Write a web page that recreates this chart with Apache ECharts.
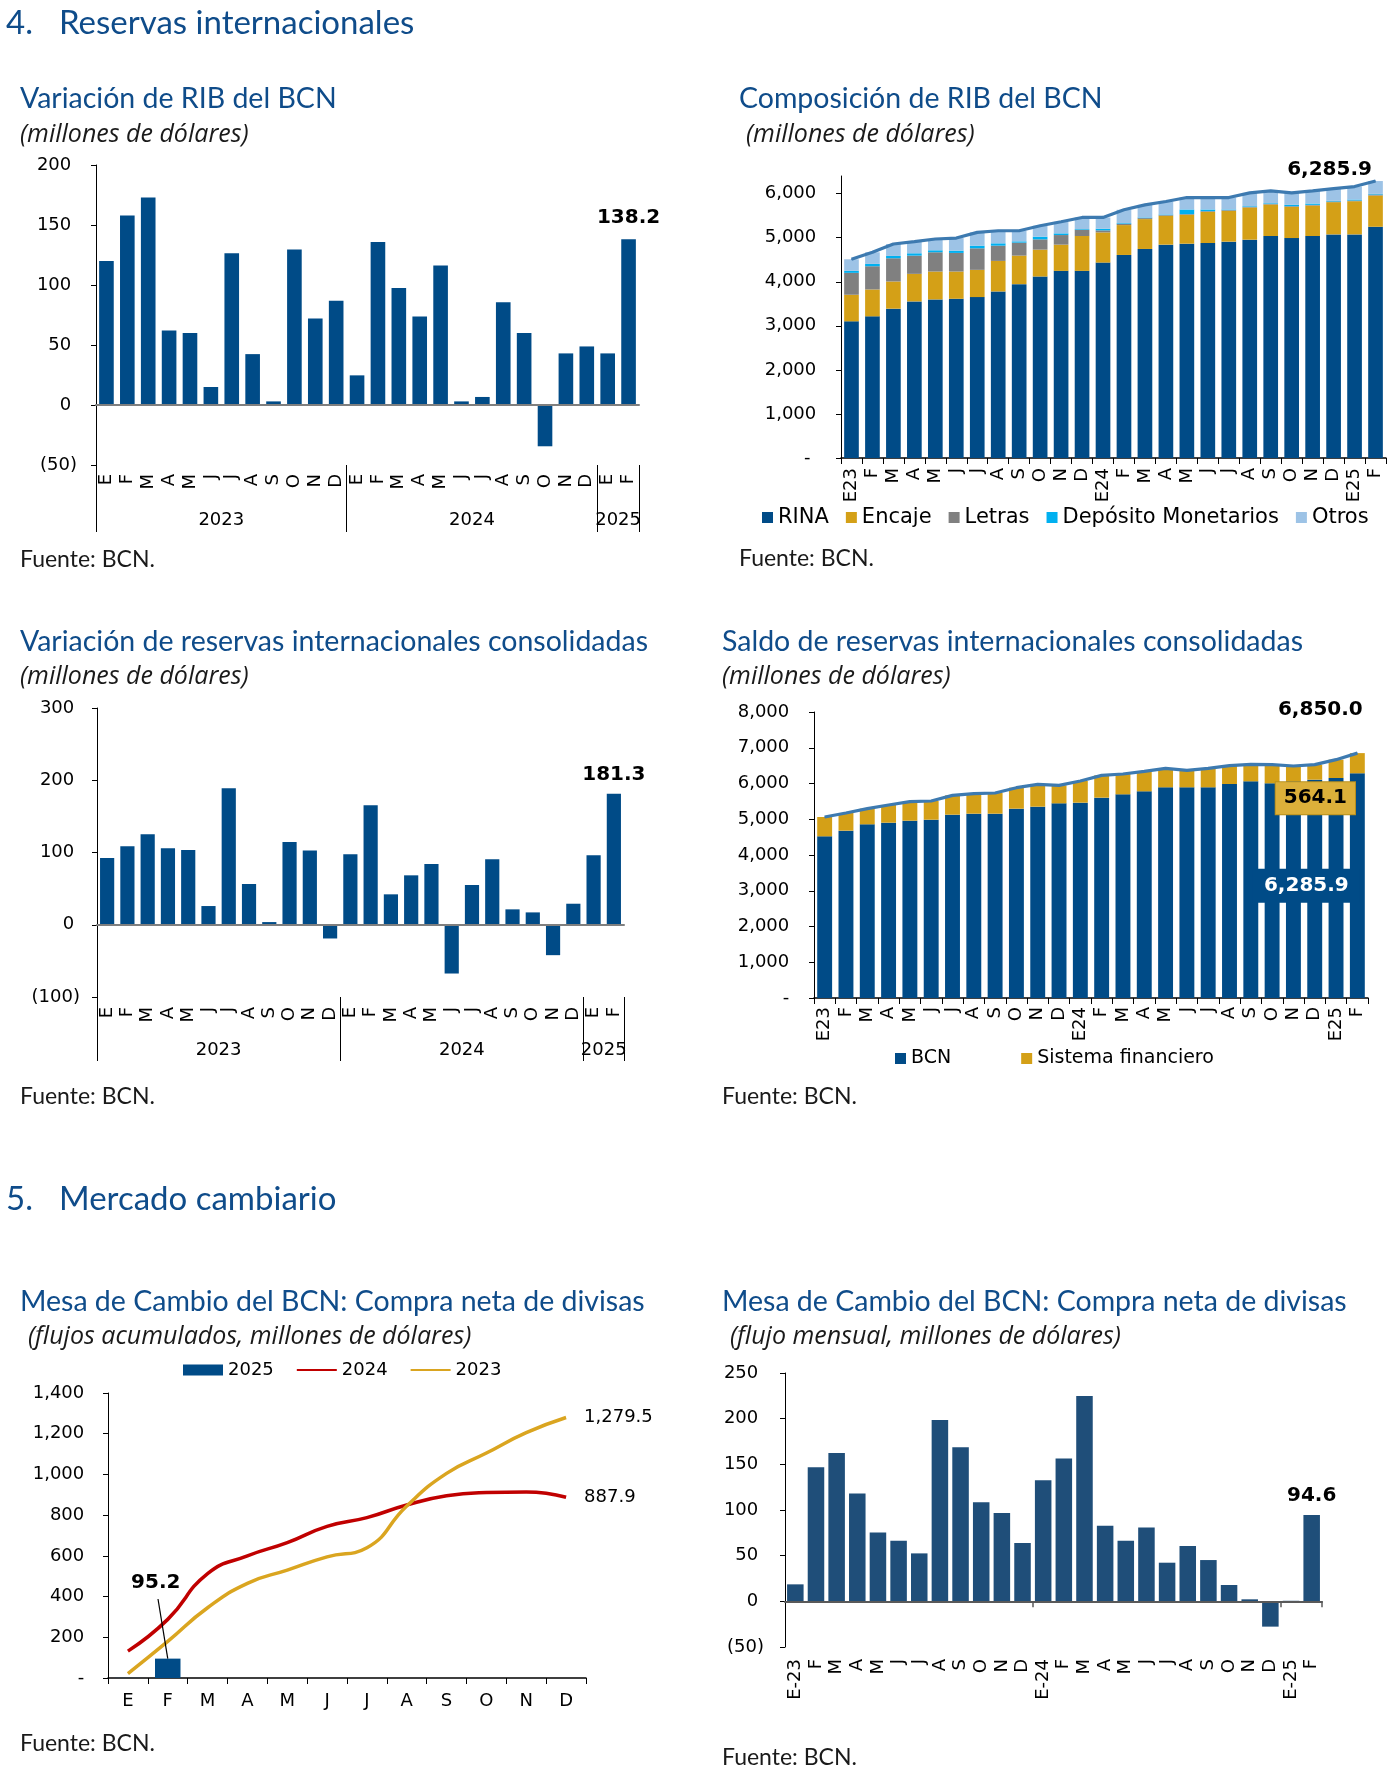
<!DOCTYPE html>
<html><head><meta charset="utf-8">
<script src="https://cdn.jsdelivr.net/npm/echarts@6/dist/echarts.min.js"></script>
<style>html,body{margin:0;padding:0;background:#fff}#c{width:1393px;height:1779px}</style>
</head><body><div id="c"></div>
<script>
// ---------- DATA ----------
const monthsP1 = ['E','F','M','A','M','J','J','A','S','O','N','D','E','F','M','A','M','J','J','A','S','O','N','D','E','F'];
const yearLabels = ['2023','2024','2025'];
const monthsPerYear = [12,12,2];
const varRIB = [120,158,173,62,60,15,126.5,42.4,3,129.5,72.1,86.8,24.7,135.9,97.4,73.8,116.2,3,6.7,85.7,59.9,-34.4,43,48.8,43,138.2];

const catsComp = ['E23','F','M','A','M','J','J','A','S','O','N','D','E24','F','M','A','M','J','J','A','S','O','N','D','E25','F'];
const rina   = [3102,3215,3389,3554,3599,3614,3652,3780,3946,4119,4247,4247,4435,4608,4744,4842,4864,4880,4910,4955,5038,4992,5038,5075,5075,5248];
const encaje = [603,610,617,625,633,618,618,693,647,610,595,791,685,678,678,655,656,707,700,730,715,708,692,731,753,708];
const letras = [497,527,527,414,437,422,489,346,294,233,218,143,46,30,22,15,15,15,15,15,15,15,15,15,15,23];
const depMon = [45,53,53,53,45,52,60,53,30,61,38,15,37,15,15,15,105,38,15,15,15,30,30,15,23,15];
const otros  = [263,264,271,264,256,286,301,286,241,248,263,263,256,302,286,294,271,271,271,301,279,272,286,278,294,291.9];

const varRIC = [92.5,108.6,125.3,105.9,103.6,25.9,189.1,56.4,3.7,114.7,102.6,-19,97.5,165.5,42.1,68.4,84.1,-67.5,55,90.6,21.3,17.1,-42.1,29.1,96.2,181.3];

const bcn    = [4522,4681,4858,4904,4960,4988,5128,5156,5156,5296,5352,5445,5464,5604,5697,5781,5893,5893,5893,5986,6061,6005,6061,6107,6154,6285.9];
const sisFin = [541,494,438,495,532,522,541,560,578,587,625,504,606,624,569,559,531,475,531,513,475,522,428,420,513,564.1];

const monthsYear = ['E','F','M','A','M','J','J','A','S','O','N','D'];
const acum2025 = [0.6,95.2];
const acum2024 = [132,288,513,600,665,745,788,850,895,911,914,887.9];
const acum2023 = [22,180,345,465,530,595,640,845,1005,1105,1205,1279.5];

const catsMesa = ['E-23','F','M','A','M','J','J','A','S','O','N','D','E-24','F','M','A','M','J','J','A','S','O','N','D','E-25','F'];
const flujoMensual = [18.6,146.9,162.5,118.1,75.4,66.3,52.5,198.6,168.7,108.6,96.6,63.8,132.7,156.3,224.9,82.7,66.3,80.9,42.3,60.5,45.2,17.9,2.2,-27.7,0.6,94.6];

// ---------- STYLE ----------
const NUM = 'DejaVu Sans';
const TF = 'Lato';
const BLUE_T = '#0F4C8A';
const BAR = '#004B87';
const GOLD = '#D4A017';

const fmt = (v, d=0) => Number(v).toLocaleString('en-US',{minimumFractionDigits:d, maximumFractionDigits:d});
const yFmt = dash => v => v===0 ? dash : (v<0 ? '('+fmt(-v)+')' : fmt(v)+' ');

const yearBounds=[0], yearCenters=[];
monthsPerYear.reduce((acc,n)=>{yearCenters.push(acc+n/2); yearBounds.push(acc+n); return acc+n;},0);
const yearAt = v => { const k = yearCenters.indexOf(v); return k>=0 ? yearLabels[k] : ''; };
const totalMonths = yearBounds[yearBounds.length-1];

const T = (text,left,cy,size,extra={}) => ({text,left,top:cy-size*0.6,padding:0,
  textStyle:Object.assign({fontFamily:TF,fontSize:size,fontWeight:'normal',color:BLUE_T,lineHeight:size*1.2},extra)});
const SUB = {fontStyle:'italic',color:'#1a1a1a',fontFamily:'Open Sans'};
const SRC = {color:'#1a1a1a'};
const SEC = 33, TIT = 28.5, STT = 25, SRS = 23;

const lastLabel = (arr, label, extra) => arr.map((v,i)=> i===arr.length-1 ? Object.assign({value:v,label:Object.assign({show:true},label)},extra||{}) : v);
const boldLbl = {fontFamily:NUM,fontWeight:'bold',fontSize:20,color:'#000'};

const yAx = (grid,min,max,interval,dash,margin,extra={}) => Object.assign({type:'value',gridIndex:grid,min,max,interval,
  axisLine:{show:true,lineStyle:{color:'#000',width:1}},
  axisTick:{show:true,length:5,lineStyle:{color:'#000'}},
  splitLine:{show:false},
  axisLabel:{formatter:yFmt(dash),fontFamily:NUM,fontSize:18,color:'#000',margin}},extra);

const labelAxis = (grid,data,margin) => ({type:'category',gridIndex:grid,data,position:'bottom',
  axisLine:{show:false,onZero:false},axisTick:{show:false},
  axisLabel:{interval:0,rotate:90,margin,fontFamily:NUM,fontSize:18,color:'#000'}});
const zeroAxis = (grid,data,color,tick) => ({type:'category',gridIndex:grid,data,position:'bottom',z:10,
  axisLine:{show:true,onZero:true,lineStyle:{color,width:2}},
  axisTick:tick||{show:false},axisLabel:{show:false}});
const yearAxis = (grid,tickLen,margin) => ({type:'value',gridIndex:grid,min:0,max:totalMonths,position:'bottom',
  axisLine:{show:false,onZero:false},splitLine:{show:false},
  axisTick:{show:true,customValues:yearBounds,length:tickLen,lineStyle:{color:'#000',width:1}},
  axisLabel:{customValues:yearCenters,formatter:v=>yearAt(v),margin,fontFamily:NUM,fontSize:18,color:'#000'}});
const catAxis = (grid,data,margin,extra={}) => Object.assign({type:'category',gridIndex:grid,data,position:'bottom',
  axisLine:{show:true,onZero:false,lineStyle:{color:'#000',width:1.5}},
  axisTick:{show:true,interval:0,length:6,lineStyle:{color:'#000'}},
  axisLabel:{interval:0,rotate:90,margin,fontFamily:NUM,fontSize:18,color:'#000'}},extra);

const sum = (i)=> +(rina[i]+encaje[i]+letras[i]+depMon[i]+otros[i]).toFixed(1);
const totalRIB = rina.map((_,i)=>sum(i));
const totalRIC = bcn.map((v,i)=> +(v+sisFin[i]).toFixed(1));

const option = {
  backgroundColor:'#fff',
  animation:false,
  title:[
    T('4.',6,23,SEC), T('Reservas internacionales',59,23,SEC),
    T('Variación de RIB del BCN',20,99,TIT), T('(millones de dólares)',20,135,STT,SUB),
    T('Composición de RIB del BCN',739,99,TIT), T('(millones de dólares)',746,135,STT,SUB),
    T('Fuente: BCN.',20,560,SRS,SRC), T('Fuente: BCN.',739,559,SRS,SRC),
    T('Variación de reservas internacionales consolidadas',20,642,TIT), T('(millones de dólares)',20,677,STT,SUB),
    T('Saldo de reservas internacionales consolidadas',722,642,TIT), T('(millones de dólares)',722,677,STT,SUB),
    T('Fuente: BCN.',20,1097,SRS,SRC), T('Fuente: BCN.',722,1097,SRS,SRC),
    T('5.',6,1199,SEC), T('Mercado cambiario',59,1199,SEC),
    T('Mesa de Cambio del BCN: Compra neta de divisas',20,1302,TIT), T('(flujos acumulados, millones de dólares)',28,1337,STT,SUB),
    T('Mesa de Cambio del BCN: Compra neta de divisas',722,1302,TIT), T('(flujo mensual, millones de dólares)',730,1337,STT,SUB),
    T('Fuente: BCN.',20,1744,SRS,SRC), T('Fuente: BCN.',722,1758,SRS,SRC)
  ],
  grid:[
    {left:96,top:165,width:543,height:300},
    {left:841,top:176,width:545,height:282},
    {left:97,top:708,width:527,height:289},
    {left:814,top:712,width:554,height:286},
    {left:108,top:1393,width:478,height:285},
    {left:785,top:1373,width:537,height:274}
  ],
  legend:[
    {data:['RINA','Encaje','Letras','Depósito Monetarios','Otros'],left:762,top:507,icon:'rect',itemWidth:11,itemHeight:11,itemGap:17,padding:0,selectedMode:false,
      textStyle:{fontFamily:NUM,fontSize:21,color:'#000'}},
    {data:['BCN','Sistema financiero'],left:895,top:1049,icon:'rect',itemWidth:11,itemHeight:11,itemGap:70,padding:0,selectedMode:false,
      textStyle:{fontFamily:NUM,fontSize:19,color:'#000'}},
    {data:[{name:'2025',icon:'rect'},{name:'2024',itemStyle:{opacity:0}},{name:'2023',itemStyle:{opacity:0}}],left:183,top:1361,itemWidth:40,itemHeight:11,itemGap:22,padding:0,selectedMode:false,
      textStyle:{fontFamily:NUM,fontSize:18,color:'#000'}}
  ],
  xAxis:[
    labelAxis(0,monthsP1,9),                 //0
    zeroAxis(0,monthsP1,'#7f7f7f'),          //1
    yearAxis(0,67,46),                       //2
    catAxis(1,catsComp,10),                  //3
    labelAxis(2,monthsP1,10),                //4
    zeroAxis(2,monthsP1,'#7f7f7f'),          //5
    yearAxis(2,64,44),                       //6
    catAxis(3,catsComp,9),                   //7
    catAxis(4,monthsYear,14,{axisLabel:{interval:0,rotate:0,margin:14,fontFamily:NUM,fontSize:18,color:'#000'}}), //8
    labelAxis(5,catsMesa,12),                //9
    zeroAxis(5,catsMesa,'#595959',{show:true,length:6,interval:(i)=>i===12||i===24,lineStyle:{color:'#595959',width:1.5}}) //10
  ],
  yAxis:[
    yAx(0,-50,200,50,'0 ',19),
    yAx(1,0,6400,1000,'-  ',19,{axisLabel:{formatter:yFmt('-  '),fontFamily:NUM,fontSize:18,color:'#000',margin:19,customValues:[0,1000,2000,3000,4000,5000,6000]},
        axisTick:{show:true,length:5,lineStyle:{color:'#000'},customValues:[0,1000,2000,3000,4000,5000,6000]}}),
    yAx(2,-100,300,100,'0 ',17),
    yAx(3,0,8000,1000,'- ',19),
    yAx(4,0,1400,200,'- ',18),
    yAx(5,-50,250,50,'0 ',21)
  ],
  series:[
    // Panel 1
    {type:'bar',name:'Variación RIB',xAxisIndex:0,yAxisIndex:0,barCategoryGap:'30%',itemStyle:{color:BAR},
      data:lastLabel(varRIB,Object.assign({position:'top',distance:11,formatter:p=>fmt(p.value,1)},boldLbl))},
    // Panel 2
    {type:'bar',name:'RINA',stack:'rib',xAxisIndex:3,yAxisIndex:1,barCategoryGap:'30%',itemStyle:{color:BAR},data:rina},
    {type:'bar',name:'Encaje',stack:'rib',xAxisIndex:3,yAxisIndex:1,itemStyle:{color:GOLD},data:encaje},
    {type:'bar',name:'Letras',stack:'rib',xAxisIndex:3,yAxisIndex:1,itemStyle:{color:'#808080'},data:letras},
    {type:'bar',name:'Depósito Monetarios',stack:'rib',xAxisIndex:3,yAxisIndex:1,itemStyle:{color:'#00B0F0'},data:depMon},
    {type:'bar',name:'Otros',stack:'rib',xAxisIndex:3,yAxisIndex:1,itemStyle:{color:'#9DC3E6'},data:otros},
    {type:'line',name:'Total RIB',xAxisIndex:3,yAxisIndex:1,symbol:'circle',symbolSize:1,showSymbol:true,z:5,lineStyle:{color:'#3D7AB0',width:3.2},itemStyle:{color:'#3D7AB0'},
      data:lastLabel(totalRIB,Object.assign({position:'top',offset:[-46,4],formatter:p=>fmt(p.value,1)},boldLbl))},
    // Panel 3
    {type:'bar',name:'Variación RIC',xAxisIndex:4,yAxisIndex:2,barCategoryGap:'30%',itemStyle:{color:BAR},
      data:lastLabel(varRIC,Object.assign({position:'top',distance:9,formatter:p=>fmt(p.value,1)},boldLbl))},
    // Panel 4
    {type:'bar',name:'BCN',stack:'ric',xAxisIndex:7,yAxisIndex:3,barCategoryGap:'30%',itemStyle:{color:BAR},
      data:lastLabel(bcn,Object.assign({},boldLbl,{position:'inside',offset:[-51,0],color:'#fff',backgroundColor:BAR,padding:[7,11],formatter:p=>fmt(p.value,1)}))},
    {type:'bar',name:'Sistema financiero',stack:'ric',xAxisIndex:7,yAxisIndex:3,itemStyle:{color:GOLD},
      data:lastLabel(sisFin,Object.assign({},boldLbl,{position:'inside',offset:[-42,35],color:'#000',backgroundColor:'#DCB03A',borderColor:'#B8901E',borderWidth:1,padding:[6,8],formatter:p=>fmt(p.value,1)}))},
    {type:'line',name:'Total RIC',xAxisIndex:7,yAxisIndex:3,symbol:'circle',symbolSize:1,showSymbol:true,z:5,lineStyle:{color:'#3D7AB0',width:3.2},itemStyle:{color:'#3D7AB0'},
      data:lastLabel(totalRIC,Object.assign({position:'top',offset:[-37,-28],formatter:p=>fmt(p.value,1)},boldLbl))},
    // Panel 5
    {type:'bar',name:'2025',xAxisIndex:8,yAxisIndex:4,barCategoryGap:'36%',itemStyle:{color:BAR},
      labelLayout:{dx:-12,dy:-61},
      markLine:{silent:true,symbol:'none',label:{show:false},lineStyle:{color:'#000',width:1.2,type:'solid'},
        data:[[{coord:[1,acum2025[1]]},{x:158,y:1599}]]},
      data:lastLabel(acum2025,Object.assign({position:'top',formatter:p=>fmt(p.value,1)},boldLbl))},
    {type:'line',name:'2024',xAxisIndex:8,yAxisIndex:4,smooth:true,symbol:'none',lineStyle:{color:'#C00000',width:3.5},itemStyle:{color:'#C00000'},
      endLabel:{show:true,distance:18,fontFamily:NUM,fontSize:18,color:'#000',formatter:p=>fmt(p.value,1)},
      data:acum2024},
    {type:'line',name:'2023',xAxisIndex:8,yAxisIndex:4,smooth:true,symbol:'none',lineStyle:{color:'#DAA520',width:3.5},itemStyle:{color:'#DAA520'},
      endLabel:{show:true,distance:18,fontFamily:NUM,fontSize:18,color:'#000',formatter:p=>fmt(p.value,1)},
      data:acum2023},
    // Panel 6
    {type:'bar',name:'Flujo mensual',xAxisIndex:9,yAxisIndex:5,barCategoryGap:'20%',itemStyle:{color:'#1F4E79'},
      data:lastLabel(flujoMensual,Object.assign({position:'top',distance:9,formatter:p=>fmt(p.value,1)},boldLbl))}
  ]
};
const chart = echarts.init(document.getElementById('c'));
chart.setOption(option);
</script>
</body></html>
